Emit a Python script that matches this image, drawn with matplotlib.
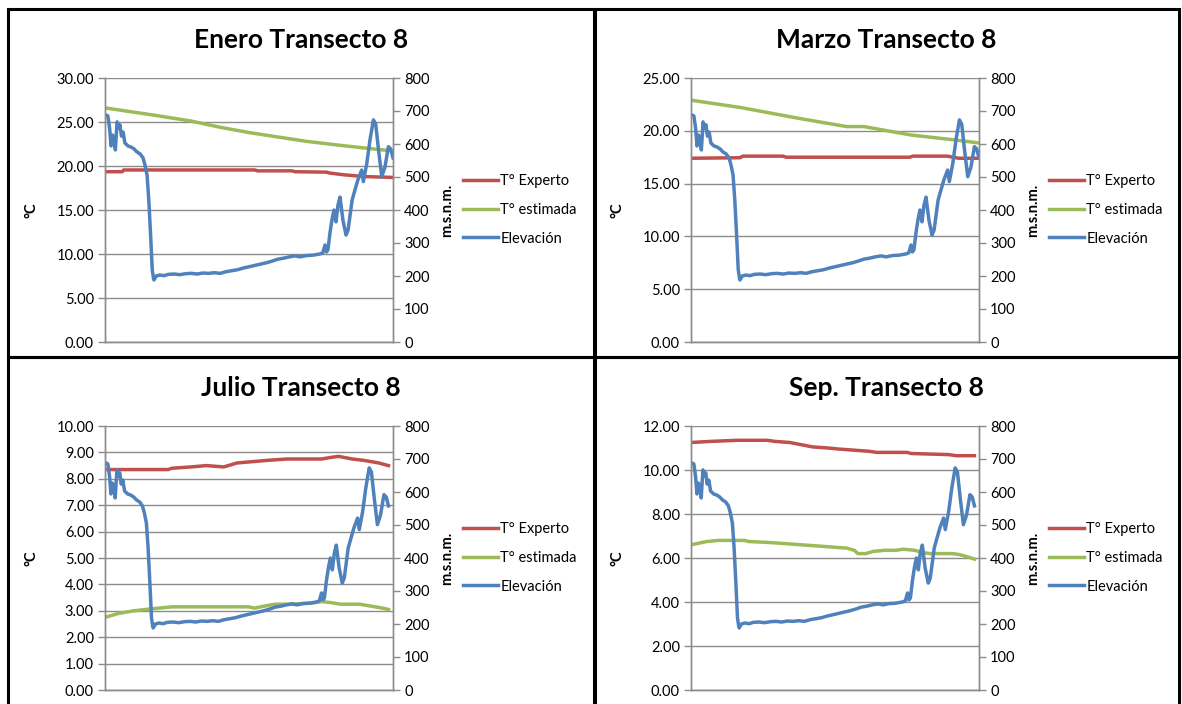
import matplotlib.pyplot as plt
from matplotlib.patches import Rectangle

plt.rcParams['font.family'] = ['Lato', 'DejaVu Sans']

# Elevation profile of transect 8 (fraction of distance, m.s.n.m.)
elev_pos = [0.000, 0.003, 0.010, 0.016, 0.021, 0.026, 0.031, 0.036, 0.042, 0.047,
            0.052, 0.057, 0.063, 0.069, 0.080, 0.090, 0.101, 0.111, 0.122, 0.132,
            0.139, 0.146, 0.152, 0.158, 0.164, 0.168, 0.170, 0.178, 0.190, 0.205,
            0.220, 0.240, 0.260, 0.280, 0.300, 0.320, 0.340, 0.360, 0.380, 0.400,
            0.420, 0.440, 0.460, 0.480, 0.500, 0.520, 0.540, 0.560, 0.580, 0.600,
            0.620, 0.640, 0.660, 0.677, 0.700, 0.722, 0.747, 0.756, 0.764, 0.769,
            0.774, 0.781, 0.788, 0.795, 0.802, 0.809, 0.816, 0.826, 0.837, 0.844,
            0.858, 0.868, 0.878, 0.891, 0.897, 0.909, 0.920, 0.932, 0.940, 0.950,
            0.961, 0.972, 0.984, 0.992, 1.000]
elev_val = [689, 688, 685, 648, 594, 627, 618, 582, 667, 648,
            658, 624, 636, 603, 594, 591, 585, 576, 570, 558,
            536, 506, 431, 330, 219, 195, 188, 200, 203, 201,
            205, 206, 204, 207, 208, 206, 209, 208, 210, 208,
            213, 216, 219, 224, 228, 232, 236, 240, 245, 251,
            254, 258, 261, 258, 262, 263, 267, 270, 294, 273,
            279, 330, 370, 400, 364, 415, 439, 370, 324, 339,
            430, 461, 491, 521, 486, 541, 612, 673, 660, 580,
            501, 530, 592, 585, 558]

# Enero
ene_exp_pos = [0.0, 0.06, 0.065, 0.52, 0.53, 0.65, 0.66, 0.77, 0.78, 0.83, 0.90, 1.0]
ene_exp_val = [19.35, 19.35, 19.55, 19.55, 19.45, 19.45, 19.35, 19.3, 19.2, 19.0, 18.8, 18.7]
ene_est_pos = [0.0, 0.166, 0.3, 0.4, 0.5, 0.6, 0.7, 0.83, 1.0]
ene_est_val = [26.6, 25.8, 25.1, 24.4, 23.8, 23.3, 22.8, 22.3, 21.7]

# Marzo
mar_exp_pos = [0.0, 0.17, 0.18, 0.32, 0.33, 0.76, 0.77, 0.89, 0.93, 1.0]
mar_exp_val = [17.4, 17.45, 17.6, 17.6, 17.5, 17.5, 17.6, 17.6, 17.4, 17.4]
mar_est_pos = [0.0, 0.173, 0.37, 0.54, 0.60, 0.764, 0.895, 1.0]
mar_est_val = [22.9, 22.2, 21.2, 20.4, 20.4, 19.6, 19.2, 18.85]

# Julio
jul_exp_pos = [0.0, 0.223, 0.236, 0.304, 0.358, 0.419, 0.466, 0.520, 0.574, 0.642,
               0.764, 0.791, 0.824, 0.872, 0.912, 0.966, 1.0]
jul_exp_val = [8.35, 8.35, 8.4, 8.45, 8.5, 8.45, 8.6, 8.65, 8.7, 8.75,
               8.75, 8.8, 8.85, 8.75, 8.7, 8.6, 8.5]
jul_est_pos = [0.0, 0.047, 0.101, 0.169, 0.236, 0.507, 0.527, 0.574, 0.601, 0.655,
               0.736, 0.764, 0.804, 0.831, 0.899, 0.926, 0.980, 1.0]
jul_est_val = [2.75, 2.9, 3.0, 3.08, 3.15, 3.15, 3.1, 3.2, 3.25, 3.25,
               3.3, 3.35, 3.3, 3.25, 3.25, 3.2, 3.1, 3.05]

# Sep.
sep_exp_pos = [0.0, 0.069, 0.163, 0.269, 0.296, 0.349, 0.389, 0.429, 0.483, 0.523,
               0.576, 0.629, 0.656, 0.763, 0.776, 0.909, 0.936, 1.0]
sep_exp_val = [11.25, 11.3, 11.35, 11.35, 11.3, 11.25, 11.15, 11.05, 11.0, 10.95,
               10.9, 10.85, 10.8, 10.8, 10.75, 10.7, 10.65, 10.65]
sep_est_pos = [0.0, 0.056, 0.096, 0.189, 0.203, 0.283, 0.336, 0.389, 0.443, 0.496,
               0.549, 0.576, 0.589, 0.616, 0.643, 0.683, 0.723, 0.749, 0.789, 0.816,
               0.843, 0.923, 0.949, 0.976, 1.0]
sep_est_val = [6.6, 6.75, 6.8, 6.8, 6.75, 6.7, 6.65, 6.6, 6.55, 6.5,
               6.45, 6.35, 6.2, 6.2, 6.3, 6.35, 6.35, 6.4, 6.35, 6.25,
               6.2, 6.2, 6.15, 6.05, 5.95]

RED = '#C0504D'
GREEN = '#9BBB59'
BLUE = '#4F81BD'
GRID = '#8C8C8C'

W, H = 1182, 704
fig = plt.figure(figsize=(W / 100, H / 100), dpi=100)


def fx(px):
    return px / W


def fy(py):
    return 1 - py / H


panels = [
    # title, plot left px, plot top px, frame centre px, temp max, temp step, x end, series
    ('Enero Transecto 8', 105, 78, 301, 30, 5, 1.0,
     (ene_exp_pos, ene_exp_val), (ene_est_pos, ene_est_val)),
    ('Marzo Transecto 8', 691, 78, 886, 25, 5, 1.0,
     (mar_exp_pos, mar_exp_val), (mar_est_pos, mar_est_val)),
    ('Julio Transecto 8', 105, 426, 301, 10, 1, 1.016,
     (jul_exp_pos, jul_exp_val), (jul_est_pos, jul_est_val)),
    ('Sep. Transecto 8', 691, 426, 886, 12, 2, 1.016,
     (sep_exp_pos, sep_exp_val), (sep_est_pos, sep_est_val)),
]

pw, ph = 288, 264

# panel frames
for x0, y0, w, h in [(8, 357, 587, 348), (594, 357, 585, 348),
                     (8, 730, 587, 373), (594, 730, 585, 373)]:
    fig.add_artist(Rectangle((fx(x0), fy(y0)), fx(w), h / H, transform=fig.transFigure,
                             fill=False, lw=2.2, ec='black'))

for title, left, top, cx, tmax, tstep, xend, (exp_pos, exp_val), (est_pos, est_val) in panels:
    ax = fig.add_axes([fx(left), fy(top + ph), pw / W, ph / H])
    ax2 = ax.twinx()

    l1, = ax.plot(exp_pos, exp_val, color=RED, lw=2.5, label='T° Experto')
    l2, = ax.plot(est_pos, est_val, color=GREEN, lw=2.5, label='T° estimada')
    l3, = ax2.plot(elev_pos, elev_val, color=BLUE, lw=2.5, label='Elevación')

    ax.set_xlim(0, xend)
    ax.set_ylim(0, tmax)
    ticks = [i * tstep for i in range(int(tmax / tstep) + 1)]
    ax.set_yticks(ticks)
    ax.set_yticklabels([f'{t:.2f}' for t in ticks])
    ax.set_xticks([])
    ax.grid(axis='y', color=GRID, lw=1.0)
    ax.set_axisbelow(True)

    ax2.set_ylim(0, 800)
    ax2.set_yticks(range(0, 801, 100))

    for a in (ax, ax2):
        for s in a.spines.values():
            s.set_color(GRID)
            s.set_linewidth(1.0)
        a.spines['top'].set_visible(False)
        a.tick_params(axis='y', colors=GRID, length=5, width=1.0, labelsize=10.5,
                      labelcolor='black', pad=3)

    fig.text(fx(cx), fy(top - 38), title, ha='center', va='center',
             fontsize=19, fontweight='bold')
    fig.text(fx(left - 73), fy(top + 132), '°C', rotation=90, ha='center', va='center',
             fontsize=10.5, fontweight='bold')
    fig.text(fx(left + 342), fy(top + 132), 'm.s.n.m.', rotation=90, ha='center',
             va='center', fontsize=10.5, fontweight='bold')

    ax.legend([l1, l2, l3], ['T° Experto', 'T° estimada', 'Elevación'],
              loc='center left', bbox_to_anchor=(fx(left + 358), fy(top + 132)),
              bbox_transform=fig.transFigure, frameon=False, fontsize=10.5,
              handlelength=2.4, handletextpad=0.15, labelspacing=1.0,
              borderpad=0, borderaxespad=0)

fig.savefig('out.png', dpi=100)
